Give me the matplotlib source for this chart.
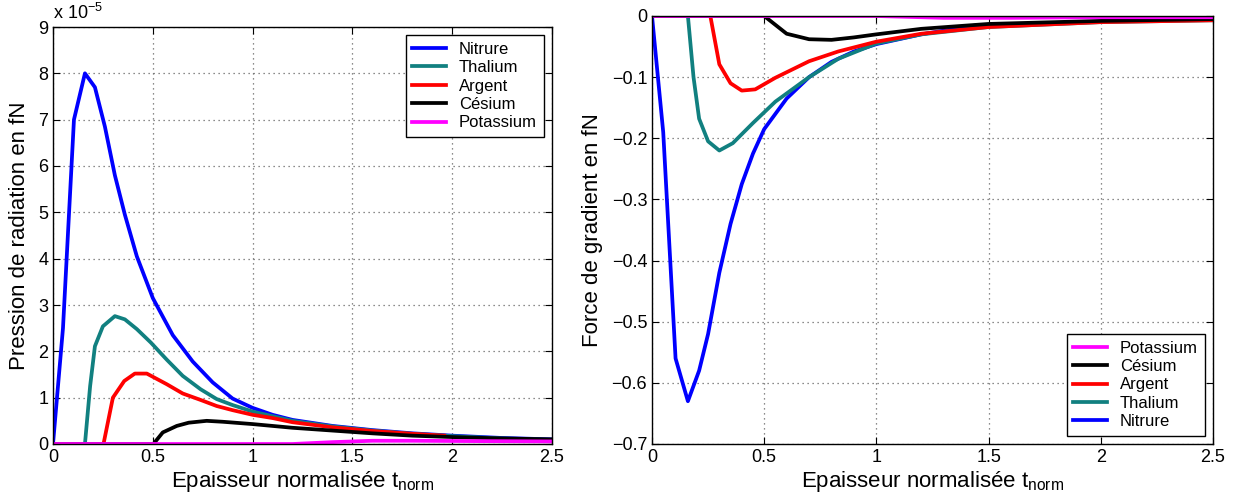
import matplotlib
matplotlib.use("Agg")
import matplotlib.pyplot as plt
from matplotlib.ticker import FuncFormatter

plt.rcParams['font.family'] = ['Liberation Sans', 'DejaVu Sans']

# ---- left panel : radiation pressure (units of 1e-5 fN) ----
x_nit_p = [0, 0.05, 0.105, 0.16, 0.21, 0.26, 0.31, 0.36, 0.42, 0.5, 0.6, 0.7, 0.8, 0.9, 1.0,
           1.1, 1.2, 1.4, 1.6, 1.8, 2.0, 2.25, 2.5]
y_nit_p = [0, 2.5, 7.0, 8.0, 7.7, 6.85, 5.8, 4.95, 4.05, 3.15, 2.35, 1.78, 1.33, 0.98, 0.78,
           0.63, 0.52, 0.39, 0.3, 0.23, 0.18, 0.13, 0.1]

x_tha_p = [0, 0.16, 0.186, 0.21, 0.25, 0.31, 0.36, 0.42, 0.49, 0.57, 0.65, 0.74, 0.82, 0.9,
           1.0, 1.1, 1.2, 1.4, 1.6, 1.8, 2.0, 2.25, 2.5]
y_tha_p = [0, 0, 1.25, 2.11, 2.54, 2.76, 2.69, 2.48, 2.19, 1.82, 1.47, 1.18, 0.97, 0.84,
           0.7, 0.6, 0.5, 0.38, 0.29, 0.22, 0.17, 0.12, 0.09]

x_arg_p = [0, 0.253, 0.3, 0.357, 0.41, 0.47, 0.57, 0.65, 0.74, 0.82, 0.9, 1.0, 1.1, 1.2, 1.4,
           1.6, 1.8, 1.96]
y_arg_p = [0, 0, 1.0, 1.36, 1.52, 1.52, 1.29, 1.09, 0.95, 0.82, 0.73, 0.63, 0.56, 0.47, 0.36,
           0.28, 0.22, 0.18]

x_ces_p = [0, 0.503, 0.55, 0.62, 0.68, 0.77, 0.85, 1.0, 1.1, 1.2, 1.4, 1.6, 1.8, 2.0, 2.25, 2.5]
y_ces_p = [0, 0, 0.25, 0.39, 0.46, 0.5, 0.48, 0.43, 0.39, 0.35, 0.29, 0.23, 0.18, 0.15, 0.12, 0.1]

x_pot_p = [0, 1.2, 1.4, 1.6, 1.8, 2.0, 2.25, 2.5]
y_pot_p = [0, 0, 0.04, 0.07, 0.07, 0.065, 0.06, 0.055]

# ---- right panel : gradient force (fN) ----
x_nit_g = [0, 0.05, 0.105, 0.16, 0.21, 0.25, 0.3, 0.35, 0.4, 0.45, 0.5, 0.6, 0.7, 0.8, 0.9,
           1.0, 1.2, 1.45]
y_nit_g = [0, -0.19, -0.56, -0.63, -0.58, -0.52, -0.42, -0.34, -0.275, -0.225, -0.185,
           -0.135, -0.1, -0.075, -0.058, -0.046, -0.03, -0.015]

x_tha_g = [0, 0.16, 0.185, 0.21, 0.25, 0.3, 0.36, 0.45, 0.55, 0.7, 0.83, 1.0, 1.2, 1.5,
           2.0, 2.5]
y_tha_g = [0, 0, -0.1, -0.168, -0.205, -0.22, -0.208, -0.175, -0.14, -0.1, -0.07, -0.045,
           -0.03, -0.018, -0.01, -0.007]

x_arg_g = [0, 0.26, 0.3, 0.35, 0.4, 0.46, 0.55, 0.7, 0.83, 1.0, 1.2, 1.5, 2.0, 2.5]
y_arg_g = [0, 0, -0.079, -0.11, -0.122, -0.12, -0.101, -0.074, -0.058, -0.042, -0.029,
           -0.018, -0.01, -0.007]

x_ces_g = [0, 0.5, 0.6, 0.7, 0.8, 0.9, 1.0, 1.2, 1.5, 2.0, 2.5]
y_ces_g = [0, 0, -0.029, -0.038, -0.039, -0.035, -0.03, -0.021, -0.013, -0.008, -0.005]

x_pot_g = [0, 1.0, 1.3, 1.6, 2.0, 2.5]
y_pot_g = [0, 0, -0.003, -0.003, -0.002, -0.002]

names = ['Nitrure', 'Thalium', 'Argent', 'Césium', 'Potassium']
colors = ['#0000ff', '#118080', '#ff0000', '#000000', '#ff00ff']

# matlab style numbers: %g with a real minus sign
fmt = FuncFormatter(lambda v, pos: ('%g' % v).replace('-', '\u2212'))


def style_axes(ax):
    ax.set_xlim(0, 2.5)
    ax.set_xticks([0, 0.5, 1, 1.5, 2, 2.5])
    ax.xaxis.set_major_formatter(fmt)
    ax.yaxis.set_major_formatter(fmt)
    ax.tick_params(direction='in', top=True, right=True, labelsize=13, length=5, width=0.8)
    ax.grid(True, linestyle=(0, (1, 3)), color='#666666', linewidth=0.9)
    for s in ax.spines.values():
        s.set_linewidth(1.0)
    ax.set_xlabel('Epaisseur normalisée t$_\\mathregular{norm}$', fontsize=16, labelpad=2)


fig = plt.figure(figsize=(12.42, 5.04), dpi=100)

ax1 = fig.add_axes([53 / 1242, 1 - 444 / 504, 499 / 1242, 417 / 504])
left_data = [(x_nit_p, y_nit_p), (x_tha_p, y_tha_p), (x_arg_p, y_arg_p),
             (x_ces_p, y_ces_p), (x_pot_p, y_pot_p)]
for (xs, ys), name, c in zip(left_data, names, colors):
    ax1.plot(xs, ys, color=c, lw=2.7, label=name)
style_axes(ax1)
ax1.set_ylim(0, 9)
ax1.set_yticks(range(10))
ax1.set_ylabel('Pression de radiation en fN', fontsize=16, labelpad=6)
ax1.text(0, 1.01, 'x 10$^\\mathregular{\u22125}$', transform=ax1.transAxes, fontsize=13,
         ha='left', va='bottom')
leg1 = ax1.legend(loc='upper right', fontsize=12, fancybox=False, edgecolor='black',
                  framealpha=1, handlelength=2.0, borderaxespad=0.5, labelspacing=0.2)
leg1.get_frame().set_linewidth(1.0)

ax2 = fig.add_axes([652 / 1242, 1 - 444 / 504, 561 / 1242, 428 / 504])
right_data = [(x_nit_g, y_nit_g), (x_tha_g, y_tha_g), (x_arg_g, y_arg_g),
              (x_ces_g, y_ces_g), (x_pot_g, y_pot_g)]
handles = []
for (xs, ys), name, c in zip(right_data, names, colors):
    h, = ax2.plot(xs, ys, color=c, lw=2.7, label=name)
    handles.append(h)
style_axes(ax2)
ax2.set_ylim(-0.7, 0)
ax2.set_yticks([-0.7, -0.6, -0.5, -0.4, -0.3, -0.2, -0.1, 0])
ax2.set_ylabel('Force de gradient en fN', fontsize=16, labelpad=6)
leg2 = ax2.legend(handles[::-1], names[::-1], loc='lower right', fontsize=12, fancybox=False,
                  edgecolor='black', framealpha=1, handlelength=2.0, borderaxespad=0.5,
                  labelspacing=0.2)
leg2.get_frame().set_linewidth(1.0)

fig.savefig('out.png', dpi=100)
